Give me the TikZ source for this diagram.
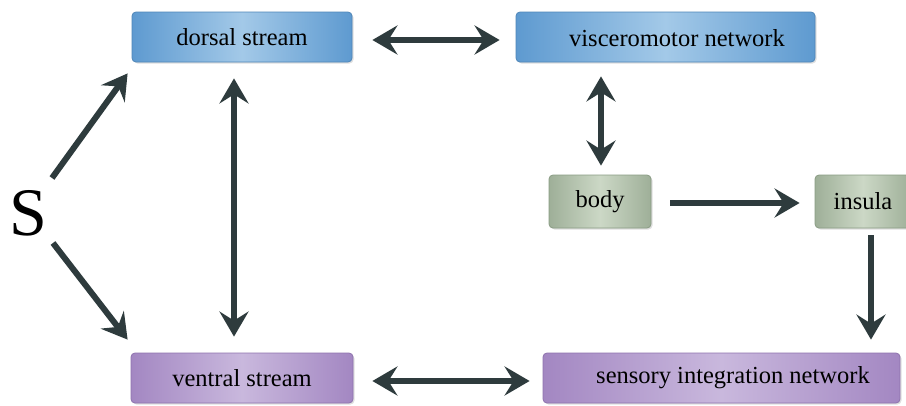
\documentclass[tikz,border=0pt]{standalone}
\usepackage{fontspec}
\setmainfont{Liberation Serif}
\usetikzlibrary{arrows.meta,calc,shadows}
\definecolor{arrcol}{HTML}{2E3B3D}
\definecolor{bluemid}{HTML}{A3C9E8}
\definecolor{blueedge}{HTML}{5E9AD0}
\definecolor{blueline}{HTML}{4F86B8}
\definecolor{greenmid}{HTML}{CCD8C6}
\definecolor{greenedge}{HTML}{9EAF98}
\definecolor{greenline}{HTML}{8A9C84}
\definecolor{purpmid}{HTML}{C9B8DD}
\definecolor{purpedge}{HTML}{A387C2}
\definecolor{purpline}{HTML}{8F73AE}
\tikzset{
  boxbase/.style={rectangle, rounded corners=4pt, inner sep=0pt, line width=0.8pt,
    font=\fontsize{24.5}{29}\selectfont,
    drop shadow={opacity=0.25, shadow xshift=1.5pt, shadow yshift=-1.5pt}},
  bluebox/.style={boxbase, draw=blueline, left color=blueedge, right color=blueedge, middle color=bluemid},
  greenbox/.style={boxbase, draw=greenline, left color=greenedge, right color=greenedge, middle color=greenmid},
  purpbox/.style={boxbase, draw=purpline, left color=purpedge, right color=purpedge, middle color=purpmid},
  lbl/.style={font=\fontsize{24.5}{29}\selectfont, inner sep=0pt},
  tip/.style={},
  arr/.style={draw=arrcol, line width=6pt, -{Stealth[length=25pt,width=29pt,inset=9pt]}},
  darr/.style={draw=arrcol, line width=6pt, {Stealth[length=25pt,width=29pt,inset=9pt]}-{Stealth[length=25pt,width=29pt,inset=9pt]}}
}
\begin{document}
\begin{tikzpicture}[x=1pt,y=-1pt]
\useasboundingbox (0,0) rectangle (906,405);
\clip (0,0) rectangle (906,405);
\fill[white] (0,0) rectangle (906,405);
% boxes
\node[bluebox, minimum width=220pt, minimum height=50pt] (dorsal) at (242,37) {dorsal stream};
\node[bluebox, minimum width=299pt, minimum height=50pt] (vm) at (665.5,37) {};
\node[lbl] (vmt) at (677,38) {visceromotor network};
\node[greenbox, minimum width=102pt, minimum height=53pt] (body) at (600,201.5) {body};
\node[greenbox, minimum width=96pt, minimum height=53pt] (insula) at (863,201.5) {insula};
\node[purpbox, minimum width=222pt, minimum height=50pt] (ventral) at (242,378) {ventral stream};
\node[purpbox, minimum width=357pt, minimum height=50pt] (sens) at (721.5,378) {};
\node[lbl] (senst) at (733,378) {sensory integration network};
\node[inner sep=0pt, font=\fontsize{68}{72}\selectfont] (S) at (28,213) {S};
% connectors
\draw[arr] ($(S)+(24,-35)$) -- ($(dorsal.south west)+(-4,11)$);
\draw[arr] ($(S)+(25,30)$) -- ($(ventral.north west)+(-3,-13)$);
\draw[darr] ($(dorsal.east)+(20,3)$) -- ($(vm.west)+(-16,3)$);
\draw[darr] ($(dorsal.south)+(-8,16)$) -- ($(ventral.north)+(-8,-16)$);
\draw[darr] ($(body.north |- vm.south)+(1,14)$) -- ($(body.north)+(1,-9)$);
\draw[arr] ($(body.east)+(19,1.5)$) -- ($(insula.west)+(-15,1.5)$);
\draw[arr] ($(insula.south)+(8,7)$) -- ($(insula.south |- sens.north)+(8,-13)$);
\draw[darr] ($(ventral.east)+(19,3)$) -- ($(sens.west)+(-13,3)$);
\end{tikzpicture}
\end{document}
